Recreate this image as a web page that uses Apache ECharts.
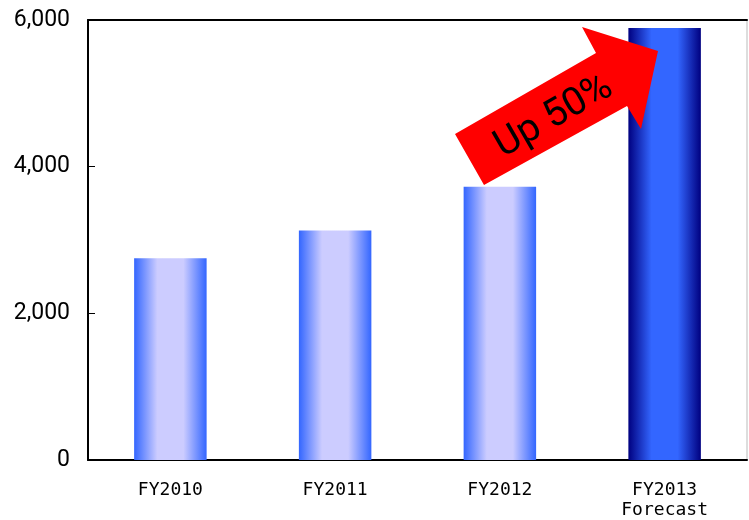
<!DOCTYPE html>
<html><head><meta charset="utf-8">
<script src="https://cdn.jsdelivr.net/npm/echarts@6/dist/echarts.min.js"></script>
<style>html,body{margin:0;padding:0;background:#fff}#c{width:749px;height:520px}</style>
</head><body><div id="c"></div>
<script>
const categories = ['FY2010', 'FY2011', 'FY2012', 'FY2013\nForecast'];
const values = [2750, 3130, 3725, 5890];
const yTicks = [0, 2000, 4000, 6000];
const annotationText = 'Up 50%';

function grad(edge, mid) {
  return new echarts.graphic.LinearGradient(0, 0, 1, 0, [
    {offset: 0, color: edge}, {offset: 0.32, color: mid},
    {offset: 0.68, color: mid}, {offset: 1, color: edge}]);
}
const chart = echarts.init(document.getElementById('c'));
chart.setOption({
  animation: false,
  grid: {left: 88, right: 2, top: 20, bottom: 57, show: true, borderColor: '#bbb', borderWidth: 1},
  xAxis: [{
    type: 'category', data: categories, position: 'bottom',
    axisLine: {lineStyle: {color: '#000', width: 2}},
    axisTick: {inside: true, length: 6, lineStyle: {color: '#000'}},
    axisLabel: {color: '#000', fontFamily: 'DejaVu Sans Mono', fontSize: 18, margin: 20, lineHeight: 20}
  }, {
    type: 'category', data: categories, position: 'top',
    axisLine: {lineStyle: {color: '#000', width: 2}},
    axisTick: {show: false}, axisLabel: {show: false}
  }],
  yAxis: {
    type: 'value', min: yTicks[0], max: yTicks[yTicks.length - 1], interval: 2000,
    axisLine: {show: true, lineStyle: {color: '#000', width: 2}},
    axisTick: {show: true, inside: true, length: 7, lineStyle: {color: '#000'}},
    splitLine: {show: false},
    axisLabel: {color: '#000', fontFamily: 'Roboto', fontSize: 23, margin: 18,
      formatter: v => v.toLocaleString('en-US')}
  },
  series: [{
    type: 'bar', barWidth: '44%',
    data: values.map((v, i) => ({
      value: v,
      itemStyle: {color: i === 3 ? grad('#000080', '#3366FF') : grad('#3366FF', '#CCCCFF')}
    }))
  }],
  graphic: [{
    type: 'polygon', z: 100,
    shape: {points: [[455,134],[596,53],[582,27],[658,51],[641,129],[627,106],[484,185]]},
    style: {fill: '#FF0000'}
  }, {
    type: 'text', z: 101, x: 554, y: 117, rotation: Math.PI / 6,
    style: {text: annotationText, fill: '#000', font: '39px Roboto, Arial, sans-serif', align: 'center', verticalAlign: 'middle'}
  }]
});
</script></body></html>
